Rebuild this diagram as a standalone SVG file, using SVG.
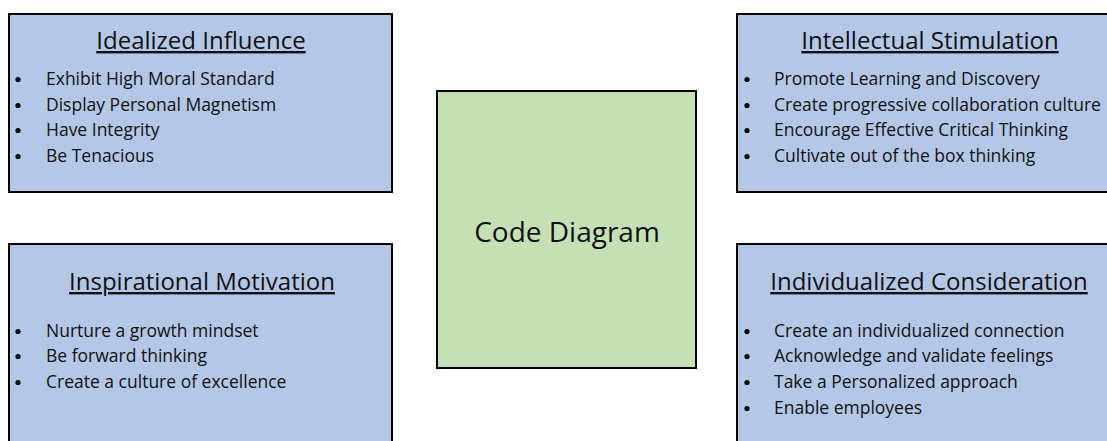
<svg xmlns="http://www.w3.org/2000/svg" width="1107" height="441" viewBox="0 0 1107 441">
<style>
.box{fill:#B4C7E7;stroke:#000;stroke-width:2}
.center{fill:#C5E0B4;stroke:#000;stroke-width:2}
.title{font-family:"Open Sans","Liberation Sans",sans-serif;font-size:24px;fill:#111;text-anchor:middle;text-decoration:underline}
.item{font-family:"Open Sans","Liberation Sans",sans-serif;font-size:17.5px;fill:#111}
.dot{fill:#000}
.main{font-family:"Open Sans","Liberation Sans",sans-serif;font-size:28px;fill:#111;text-anchor:middle}
</style>
<rect width="1107" height="441" fill="#fff"/>
<g id="connectors"></g>
<g id="idealized-influence">
<rect class="box" x="9" y="14" width="383" height="178"/>
<text class="title" x="201" y="49">Idealized Influence</text>
<circle class="dot" cx="18" cy="79.5" r="2.6"/><text class="item" x="46" y="85">Exhibit High Moral Standard</text>
<circle class="dot" cx="18" cy="105.5" r="2.6"/><text class="item" x="46" y="111">Display Personal Magnetism</text>
<circle class="dot" cx="18" cy="130.5" r="2.6"/><text class="item" x="46" y="136">Have Integrity</text>
<circle class="dot" cx="18" cy="156.5" r="2.6"/><text class="item" x="46" y="162">Be Tenacious</text>
</g>
<g id="intellectual-stimulation">
<rect class="box" x="737" y="14" width="383" height="178"/>
<text class="title" x="930" y="49">Intellectual Stimulation</text>
<circle class="dot" cx="747" cy="79.5" r="2.6"/><text class="item" x="774" y="85">Promote Learning and Discovery</text>
<circle class="dot" cx="747" cy="105.5" r="2.6"/><text class="item" x="774" y="111">Create progressive collaboration culture</text>
<circle class="dot" cx="747" cy="130.5" r="2.6"/><text class="item" x="774" y="136">Encourage Effective Critical Thinking</text>
<circle class="dot" cx="747" cy="156.5" r="2.6"/><text class="item" x="774" y="162">Cultivate out of the box thinking</text>
</g>
<g id="inspirational-motivation">
<rect class="box" x="9" y="244" width="383" height="210"/>
<text class="title" x="202" y="290">Inspirational Motivation</text>
<circle class="dot" cx="18" cy="331.5" r="2.6"/><text class="item" x="46" y="337">Nurture a growth mindset</text>
<circle class="dot" cx="18" cy="356.5" r="2.6"/><text class="item" x="46" y="362">Be forward thinking</text>
<circle class="dot" cx="18" cy="382.5" r="2.6"/><text class="item" x="46" y="388">Create a culture of excellence</text>
</g>
<g id="individualized-consideration">
<rect class="box" x="737" y="244" width="383" height="210"/>
<text class="title" x="929" y="290">Individualized Consideration</text>
<circle class="dot" cx="747" cy="331.5" r="2.6"/><text class="item" x="774" y="337">Create an individualized connection</text>
<circle class="dot" cx="747" cy="356.5" r="2.6"/><text class="item" x="774" y="362">Acknowledge and validate feelings</text>
<circle class="dot" cx="747" cy="382.5" r="2.6"/><text class="item" x="774" y="388">Take a Personalized approach</text>
<circle class="dot" cx="747" cy="408.5" r="2.6"/><text class="item" x="774" y="414">Enable employees</text>
</g>
<g id="code-diagram">
<rect class="center" x="437" y="91" width="259" height="277"/>
<text class="main" x="567" y="242">Code Diagram</text>
</g>
</svg>
